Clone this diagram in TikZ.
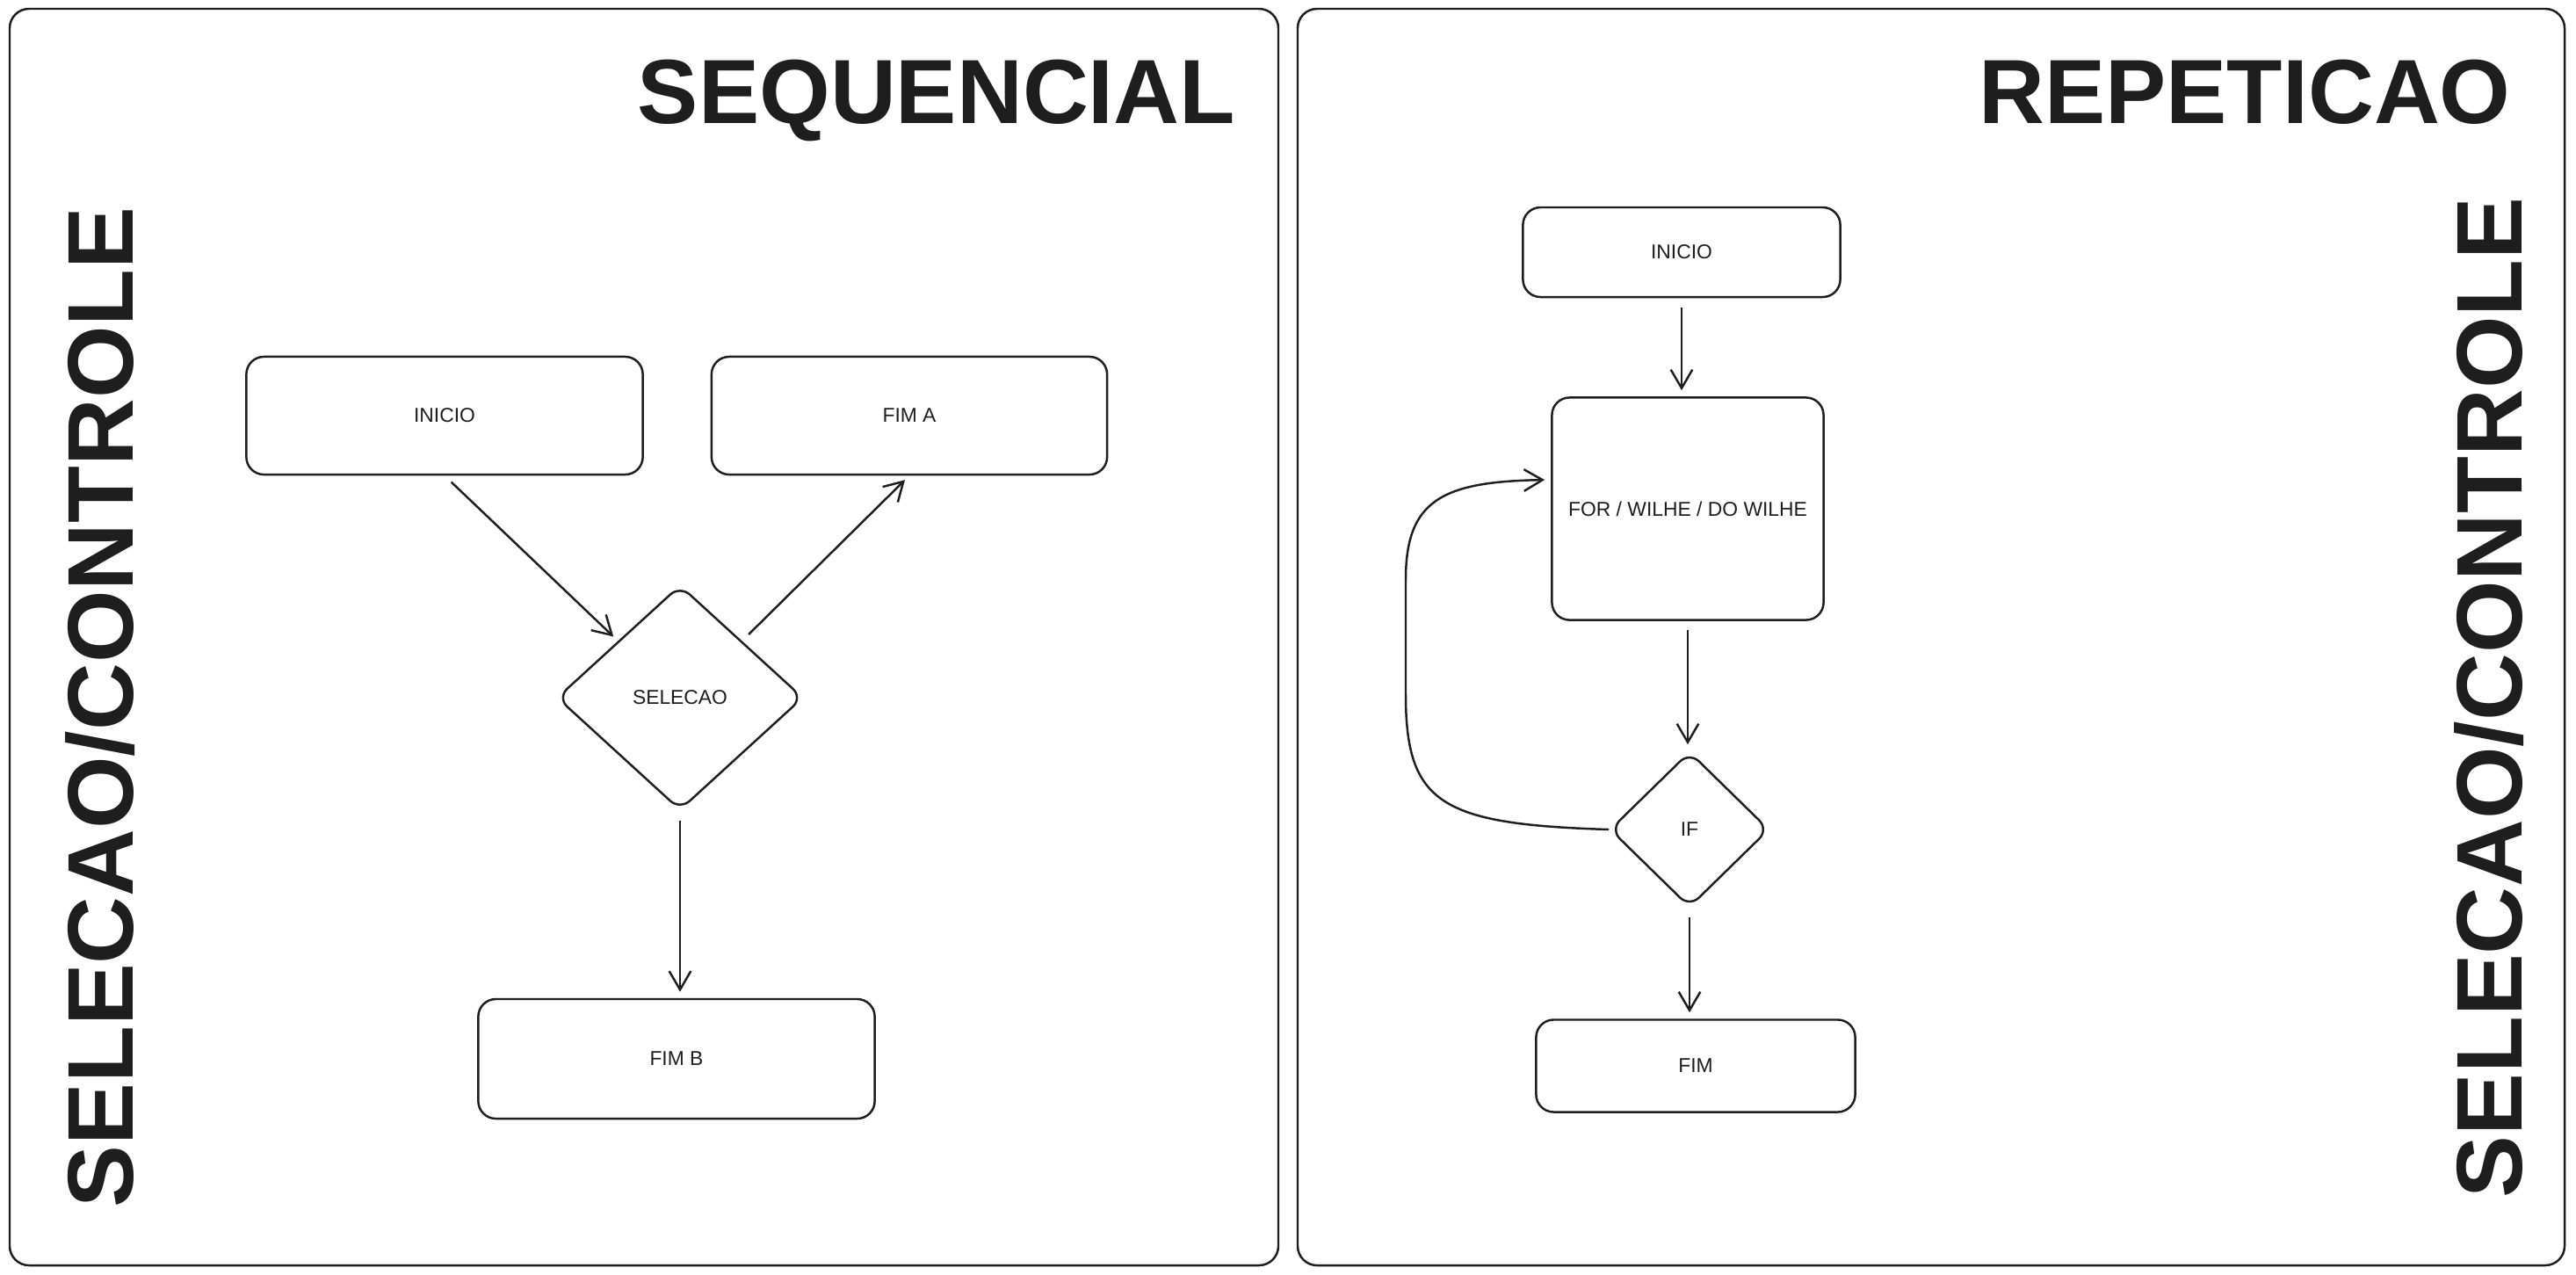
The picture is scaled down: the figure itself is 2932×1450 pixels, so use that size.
\documentclass[tikz,border=0pt]{standalone}
\usepackage{fontspec}
\setmainfont{Liberation Sans}
\usetikzlibrary{shapes.geometric}
\usetikzlibrary{arrows.meta}
\definecolor{ink}{HTML}{1E1E1E}

\begin{document}
\begin{tikzpicture}[x=0.01cm,y=-0.01cm,
  pen/.style={draw=ink,line width=0.7pt},
  panel/.style={pen,rounded corners=0.22cm},
  box/.style={pen,rounded corners=0.2cm,text=ink,inner sep=0pt,font=\fontsize{6.5}{8}\selectfont},
  choice/.style={pen,diamond,rounded corners=0.15cm,inner sep=0pt,text=ink,font=\fontsize{6.5}{8}\selectfont},
  title/.style={text=ink,inner sep=0pt,font=\fontsize{29.5}{34}\selectfont\bfseries},
  side/.style={text=ink,inner sep=0pt,rotate=90,font=\fontsize{30.2}{36}\selectfont\bfseries},
  flow/.style={pen,-{Straight Barb[length=6pt,width=7pt]},shorten <=3pt,shorten >=2pt}]
\useasboundingbox (0,0) rectangle (2932,1450);

\draw[panel] (11,10) rectangle (1455,1440);
\draw[panel] (1477,10) rectangle (2919,1440);

\node[title,anchor=base] (seqtitle) at (1066,140) {SEQUENCIAL};
\node[side] (leftside) at (114,805) {SELECAO/CONTROLE};

\node[box,minimum width=4.51cm,minimum height=1.34cm] (inicioA) at (506,473) {INICIO};
\node[box,minimum width=4.5cm,minimum height=1.34cm] (fimA) at (1035,473) {FIM A};
\node[choice,minimum width=2.8cm,minimum height=2.56cm] (selecao) at (774,794) {SELECAO};
\node[box,minimum width=4.51cm,minimum height=1.36cm] (fimB) at (770,1205) {FIM B};

\draw[flow] (inicioA.south) -- (selecao.north west);
\draw[flow] (selecao.north east) -- (fimA.south);
\draw[flow] (selecao.south) -- (selecao.south |- fimB.north);

\node[title,anchor=base] (reptitle) at (2555,140) {REPETICAO};
\node[side] (rightside) at (2833,794) {SELECAO/CONTROLE};

\node[box,minimum width=3.61cm,minimum height=1.02cm] (inicioB) at (1914,287) {INICIO};
\node[box,minimum width=3.09cm,minimum height=2.53cm] (laco) at (1921,579) {FOR / WILHE / DO WILHE};
\node[choice,minimum width=1.81cm,minimum height=1.77cm] (cond) at (1923,944) {IF};
\node[box,minimum width=3.63cm,minimum height=1.05cm] (fim) at (1930,1213) {FIM};

\draw[flow] (inicioB.south) -- (inicioB.south |- laco.north);
\draw[flow] (laco.south) -- (laco.south |- cond.north);
\draw[flow] (cond.south) -- (cond.south |- fim.north);
\draw[flow,shorten <=0pt] (cond.west) .. controls (1640,938) and (1600,915) .. (1600,790)
  -- (1600,660) .. controls (1600,570) and (1640,548) .. ([yshift=0.33cm]laco.west);
\end{tikzpicture}
\end{document}
